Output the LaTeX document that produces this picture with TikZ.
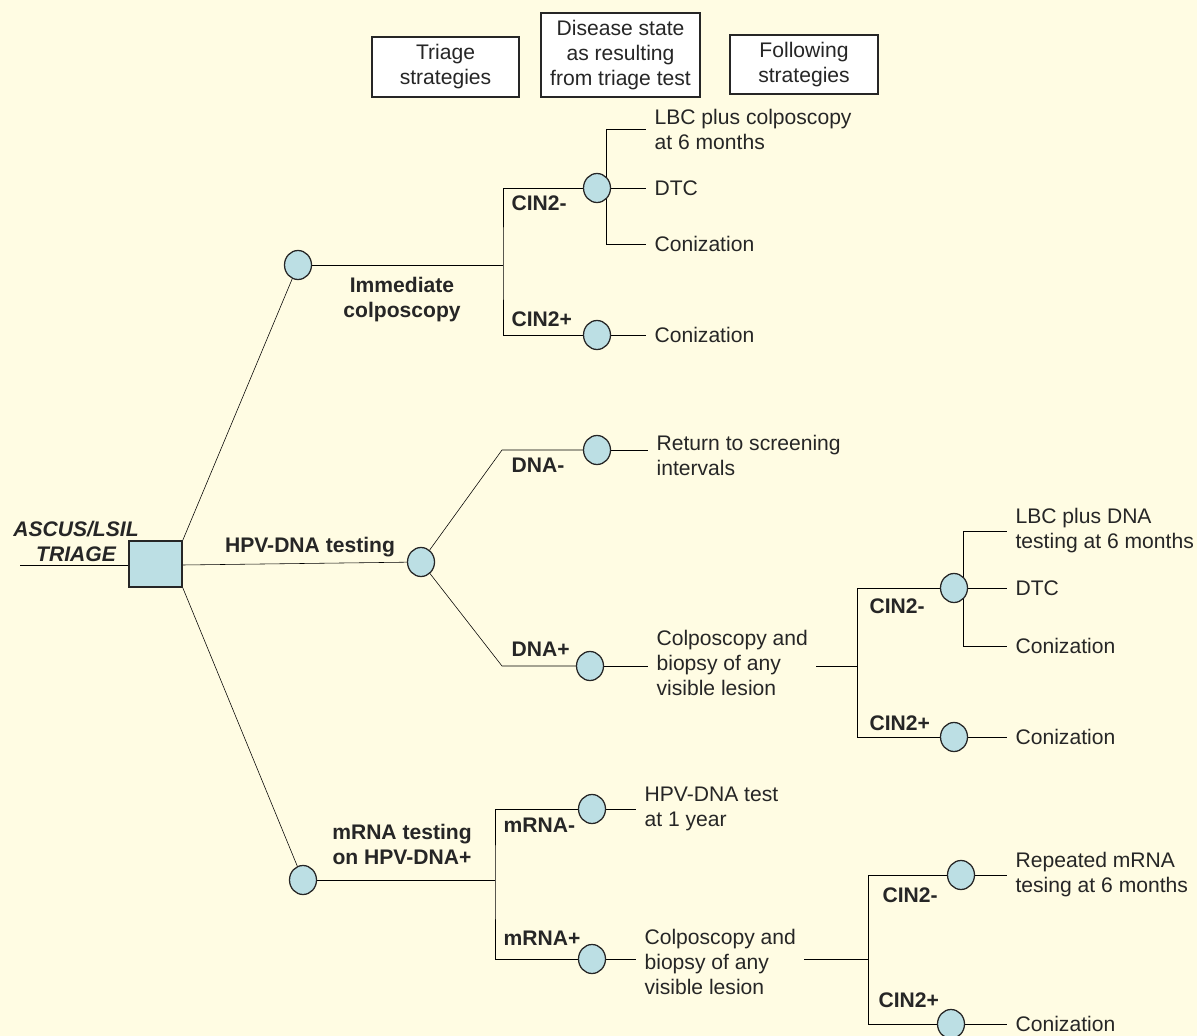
\documentclass[tikz,border=0pt]{standalone}
\usepackage{fontspec}
\setmainfont{Liberation Sans}
\usetikzlibrary{shapes.geometric,backgrounds}
\definecolor{paper}{HTML}{FFFCE3}
\definecolor{bubble}{HTML}{BCDFE4}
\definecolor{ink}{HTML}{262626}
\newcommand{\diagfont}{\fontsize{15}{17.8}\selectfont}
\tikzset{
  chance/.style={ellipse,draw=ink,line width=0.9pt,fill=bubble,minimum width=0.675cm,minimum height=0.725cm,inner sep=0pt},
  arm/.style={font=\diagfont\bfseries,inner sep=0pt,anchor=west},
  branchtext/.style={font=\diagfont\bfseries,align=center,inner sep=0pt},
  result/.style={align=left,anchor=west,inner xsep=0.2cm,inner ysep=0pt},
  headbox/.style={draw=ink,line width=0.9pt,fill=white,align=center,inner sep=0pt},
}
\begin{document}
\begin{tikzpicture}[x=0.025cm,y=-0.025cm,font=\diagfont,line width=0.85pt,color=ink]
	\useasboundingbox (0,0) rectangle (1197,1036);
	% column headings
	\node[headbox,minimum width=3.675cm,minimum height=1.5cm] (hTriage) at (445.5,67) {Triage\\strategies};
	\node[headbox,minimum width=3.975cm,minimum height=2.1cm] (hState) at (620.5,55) {Disease state\\as resulting\\from triage test};
	\node[headbox,minimum width=3.7cm,minimum height=1.475cm] (hNext) at (804,64.5) {Following\\strategies};

	% root decision
	\coordinate (start) at (20,565);
	\node[draw=ink,line width=1.1pt,fill=bubble,minimum width=1.325cm,minimum height=1.15cm,inner sep=0pt] (root) at (155.5,564) {};
	\node[font=\diagfont\bfseries\itshape,align=center,inner sep=0pt] (triage) at (76,541) {ASCUS/LSIL\\TRIAGE};

	% triage strategies
	\node[chance] (colpo) at (298,265) {};
	\node[chance] (hpv) at (421,562) {};
	\node[chance] (mrna) at (303,880) {};
	\node[branchtext] (tImm) at (402,300) {Immediate\\colposcopy};
	\node[branchtext] (tHpv) at (310,547) {HPV-DNA testing};
	\node[branchtext] (tMrna) at (402,844) {mRNA testing\\on HPV-DNA+};

	% immediate colposcopy
	\coordinate (colpoJ) at (503,265);
	\node[chance] (colpoNeg) at (597,188) {};
	\node[chance] (colpoPos) at (597,335) {};
	\node[arm] (lColpoNeg) at (511,203) {CIN2-};
	\node[arm] (lColpoPos) at (511,319) {CIN2+};
	\coordinate (colpoFanT) at (606,129);
	\coordinate (colpoFanB) at (606,244);
	\node[result] (rLbc) at (646,129) {LBC plus colposcopy\\at 6 months};
	\node[result] (rDtc) at (646,188) {DTC};
	\node[result] (rCon) at (646,244) {Conization};
	\node[result] (rCon2) at (646,335) {Conization};

	% HPV-DNA testing
	\coordinate (dnaNegJ) at (502,450);
	\coordinate (dnaPosJ) at (502,666);
	\node[chance] (dnaNeg) at (597,450) {};
	\node[chance] (dnaPos) at (590,666) {};
	\node[arm] (lDnaNeg) at (511,465) {DNA-};
	\node[arm] (lDnaPos) at (511,649) {DNA+};
	\node[result] (rReturn) at (648,455) {Return to screening\\intervals};
	\node[result] (rBiopsy) at (648,663) {Colposcopy and\\biopsy of any\\visible lesion};
	\coordinate (bioJ) at (857,666);
	\node[chance] (bNeg) at (954,588) {};
	\node[chance] (bPos) at (954,737) {};
	\node[arm] (lBNeg) at (869,606) {CIN2-};
	\node[arm] (lBPos) at (869,723) {CIN2+};
	\coordinate (bFanT) at (963,531);
	\coordinate (bFanB) at (963,646);
	\node[result] (rLbcDna) at (1007,531) {LBC plus DNA\\testing at 6 months};
	\node[result] (rDtc2) at (1007,588) {DTC};
	\node[result] (rCon3) at (1007,646) {Conization};
	\node[result] (rCon4) at (1007,737) {Conization};

	% mRNA testing
	\coordinate (mrnaJ) at (495,880);
	\node[chance] (mNeg) at (592,809) {};
	\node[chance] (mPos) at (592,959) {};
	\node[arm] (lMNeg) at (503,825) {mRNA-};
	\node[arm] (lMPos) at (503,938) {mRNA+};
	\node[result] (rHpv) at (636,809) {HPV-DNA test\\at 1 year};
	\node[result] (rBiopsy2) at (636,962) {Colposcopy and\\biopsy of any\\visible lesion};
	\coordinate (bio2J) at (868,959);
	\node[chance] (cNeg) at (961,875) {};
	\node[chance] (cPos) at (951,1024) {};
	\node[arm] (lCNeg) at (882,895) {CIN2-};
	\node[arm] (lCPos) at (878,1000) {CIN2+};
	\node[result] (rRepeat) at (1007,875) {Repeated mRNA\\tesing at 6 months};
	\node[result] (rCon5) at (1007,1024) {Conization};

	\begin{scope}[on background layer]
	\fill[paper] (0,0) rectangle (1197,1036);
	\draw (start) -- (start -| root.west);
	\draw (root.north east) -- (colpo);
	\draw (root.east |- start) -- (hpv);
	\draw (root.south east) -- (mrna);
	% immediate colposcopy
	\draw (colpo) -- (colpoJ);
	\draw (colpoNeg) -| (colpoJ) |- (colpoPos);
	\draw (colpoFanT) -- (colpoFanB);
	\draw (colpoFanT) -- (rLbc);
	\draw (colpoNeg) -- (rDtc);
	\draw (colpoFanB) -- (rCon);
	\draw (colpoPos) -- (rCon2);
	% HPV-DNA testing
	\draw (hpv) -- (dnaNegJ) -- (dnaNeg);
	\draw (hpv) -- (dnaPosJ) -- (dnaPos);
	\draw (dnaNeg) -- (dnaNeg -| rReturn.west);
	\draw (dnaPos) -- (dnaPos -| rBiopsy.west);
	\draw (rBiopsy.east |- bioJ) -- (bioJ);
	\draw (bNeg) -| (bioJ) |- (bPos);
	\draw (bFanT) -- (bFanB);
	\draw (bFanT) -- (rLbcDna);
	\draw (bNeg) -- (rDtc2);
	\draw (bFanB) -- (rCon3);
	\draw (bPos) -- (rCon4);
	% mRNA testing
	\draw (mrna) -- (mrnaJ);
	\draw (mNeg) -| (mrnaJ) |- (mPos);
	\draw (mNeg) -- (rHpv);
	\draw (mPos) -- (mPos -| rBiopsy2.west);
	\draw (rBiopsy2.east |- bio2J) -- (bio2J);
	\draw (cNeg) -| (bio2J) |- (cPos);
	\draw (cNeg) -- (rRepeat);
	\draw (cPos) -- (rCon5);
	\end{scope}
\end{tikzpicture}
\end{document}
